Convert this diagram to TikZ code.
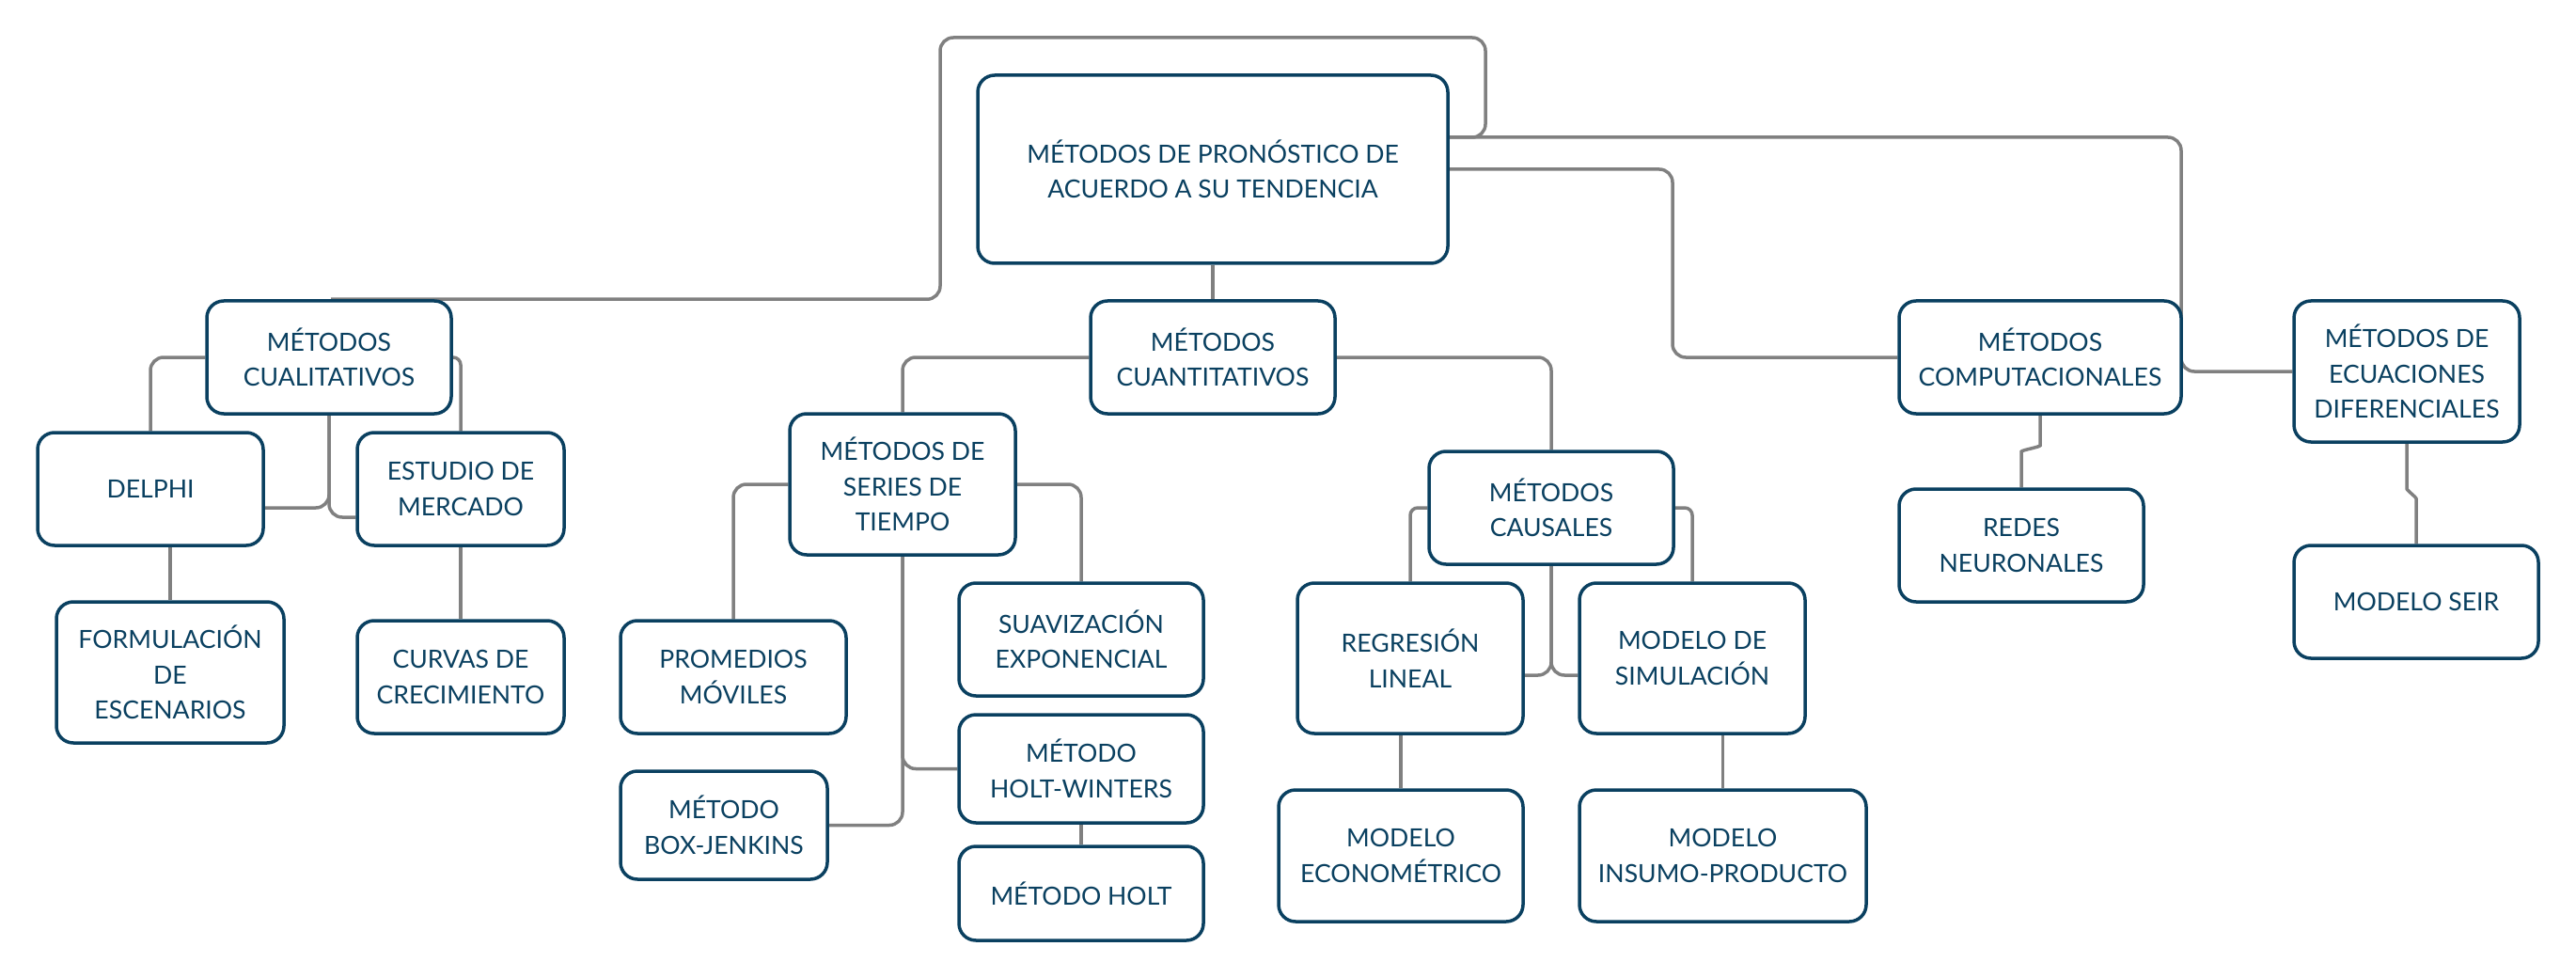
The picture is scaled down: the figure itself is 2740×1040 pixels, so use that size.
\documentclass[tikz,border=0pt]{standalone}
\usepackage{fontspec}
\setmainfont{Lato}
\usetikzlibrary{calc,backgrounds}
\definecolor{navy}{RGB}{10,64,96}
\definecolor{conngray}{RGB}{128,128,128}
\tikzset{
  mbox/.style={draw=navy, line width=3.5pt, rounded corners=18pt, fill=white,
    text=navy, align=center, inner sep=0pt,
    font=\fontsize{26.6}{37.5}\selectfont},
  conn/.style={draw=conngray, line width=3.5pt, rounded corners=14pt},
  sconn/.style={draw=conngray, line width=3.5pt, rounded corners=8pt}
}
\begin{document}
\begin{tikzpicture}[x=1pt,y=-1pt]
\useasboundingbox (0,0) rectangle (2740,1040);
% boxes
\node[mbox, minimum width=500pt, minimum height=200pt] (root) at (1290,180) {MÉTODOS DE PRONÓSTICO DE\\ACUERDO A SU TENDENCIA};
\node[mbox, minimum width=260pt, minimum height=120pt] (cual) at (350,380) {MÉTODOS\\CUALITATIVOS};
\node[mbox, minimum width=260pt, minimum height=120pt] (cuan) at (1290,380) {MÉTODOS\\CUANTITATIVOS};
\node[mbox, minimum width=300pt, minimum height=120pt] (comp) at (2170,380) {MÉTODOS\\COMPUTACIONALES};
\node[mbox, minimum width=240pt, minimum height=150pt] (ecua) at (2560,395) {MÉTODOS DE\\ECUACIONES\\DIFERENCIALES};
\node[mbox, minimum width=240pt, minimum height=120pt] (delphi) at (160,520) {DELPHI};
\node[mbox, minimum width=220pt, minimum height=120pt] (estudio) at (490,520) {ESTUDIO DE\\MERCADO};
\node[mbox, minimum width=242pt, minimum height=150pt] (formul) at (181,715) {FORMULACIÓN\\DE\\ESCENARIOS};
\node[mbox, minimum width=220pt, minimum height=120pt] (curvas) at (490,720) {CURVAS DE\\CRECIMIENTO};
\node[mbox, minimum width=240pt, minimum height=150pt] (series) at (960,515) {MÉTODOS DE\\SERIES DE\\TIEMPO};
\node[mbox, minimum width=240pt, minimum height=120pt] (prom) at (780,720) {PROMEDIOS\\MÓVILES};
\node[mbox, minimum width=220pt, minimum height=115pt] (boxj) at (770,877.5) {MÉTODO\\BOX-JENKINS};
\node[mbox, minimum width=260pt, minimum height=120pt] (suav) at (1150,680) {SUAVIZACIÓN\\EXPONENCIAL};
\node[mbox, minimum width=260pt, minimum height=115pt] (hw) at (1150,817.5) {MÉTODO\\HOLT-WINTERS};
\node[mbox, minimum width=260pt, minimum height=100pt] (holt) at (1150,950) {MÉTODO HOLT};
\node[mbox, minimum width=260pt, minimum height=120pt] (caus) at (1650,540) {MÉTODOS\\CAUSALES};
\node[mbox, minimum width=240pt, minimum height=160pt] (regr) at (1500,700) {REGRESIÓN\\LINEAL};
\node[mbox, minimum width=240pt, minimum height=160pt] (simu) at (1800,700) {MODELO DE\\SIMULACIÓN};
\node[mbox, minimum width=260pt, minimum height=140pt] (econ) at (1490,910) {MODELO\\ECONOMÉTRICO};
\node[mbox, minimum width=305pt, minimum height=140pt] (insumo) at (1832.5,910) {MODELO\\INSUMO-PRODUCTO};
\node[mbox, minimum width=260pt, minimum height=120pt] (redes) at (2150,580) {REDES\\NEURONALES};
\node[mbox, minimum width=260pt, minimum height=120pt] (seir) at (2570,640) {MODELO SEIR};
% connectors
\begin{scope}[on background layer]
\draw[conn] ($(cual.north)+(2,0)$) -| (1000,40) -| (1580,146) -- ($(root.east)+(0,-34)$);
\draw[conn] (root.south) -- (cuan.north);
\draw[conn] (root.east) -- (1779,180) |- (comp.west);
\draw[conn] ($(root.east)+(0,-34)$) -- (2320,146) |- (ecua.west);
\draw[conn] (cuan.west) -| (series.north);
\draw[conn] (cuan.east) -| (caus.north);
\draw[conn] (cual.west) -| (delphi.north);
\draw[sconn] (cual.east) -| (estudio.north);
\draw[conn] (cual.south) |- ($(delphi.east)+(0,20)$);
\draw[conn] (cual.south) |- ($(estudio.west)+(0,30)$);
\draw[conn] (formul.north |- delphi.south) -- (formul.north);
\draw[conn] (estudio.south) -- (curvas.north);
\draw[conn] (series.west) -| (prom.north);
\draw[conn] (series.east) -| (suav.north);
\draw[conn] (series.south) |- (hw.west);
\draw[conn] (series.south) |- (boxj.east);
\draw[conn] (hw.south) -- (holt.north);
\draw[sconn] (caus.west) -| (regr.north);
\draw[sconn] (caus.east) -| (simu.north);
\draw[conn] (caus.south) |- ($(regr.east)+(0,18)$);
\draw[conn] (caus.south) |- ($(simu.west)+(0,18)$);
\draw[conn] (econ.north |- regr.south) -- (econ.north);
\draw[conn] (insumo.north |- simu.south) -- (insumo.north);
\draw[conn] (comp.south) -- ($(comp.south)+(0,18)$) to[out=-90,in=90] ($(redes.north)+(0,-24)$) -- (redes.north);
\draw[conn] (ecua.south) -- ($(ecua.south)+(0,34)$) to[out=-90,in=90] ($(seir.north)+(0,-34)$) -- (seir.north);
\end{scope}
\end{tikzpicture}
\end{document}
